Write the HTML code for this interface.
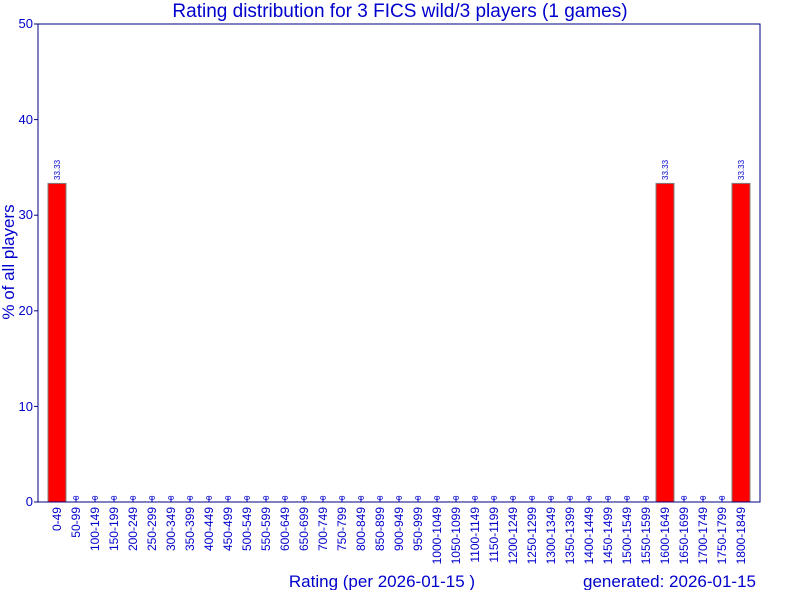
<!DOCTYPE html>
<html><head><style>body{margin:0;background:#fff}svg{display:block}</style></head><body>
<svg width="790" height="590" xmlns="http://www.w3.org/2000/svg" font-family="Liberation Sans, sans-serif" fill="#0000cc">
<rect width="790" height="590" fill="#fff"/>
<text x="400" y="17" font-size="19" text-anchor="middle">Rating distribution for 3 FICS wild/3 players (1 games)</text>
<g fill="#ff0000" stroke="#808080" stroke-width="1">
<rect x="48" y="183.4" width="18" height="318.6"/>
<rect x="656" y="183.4" width="18" height="318.6"/>
<rect x="732" y="183.4" width="18" height="318.6"/>
</g>
<g font-size="8">
<text transform="translate(60,180) rotate(-90)">33.33</text>
<text transform="translate(668,180) rotate(-90)">33.33</text>
<text transform="translate(744,180) rotate(-90)">33.33</text>
</g>
<g stroke="#0000cc">
<line x1="76" y1="502" x2="76" y2="497"/><line x1="95" y1="502" x2="95" y2="497"/><line x1="114" y1="502" x2="114" y2="497"/><line x1="133" y1="502" x2="133" y2="497"/><line x1="152" y1="502" x2="152" y2="497"/><line x1="171" y1="502" x2="171" y2="497"/><line x1="190" y1="502" x2="190" y2="497"/><line x1="209" y1="502" x2="209" y2="497"/><line x1="228" y1="502" x2="228" y2="497"/><line x1="247" y1="502" x2="247" y2="497"/><line x1="266" y1="502" x2="266" y2="497"/><line x1="285" y1="502" x2="285" y2="497"/><line x1="304" y1="502" x2="304" y2="497"/><line x1="323" y1="502" x2="323" y2="497"/><line x1="342" y1="502" x2="342" y2="497"/><line x1="361" y1="502" x2="361" y2="497"/><line x1="380" y1="502" x2="380" y2="497"/><line x1="399" y1="502" x2="399" y2="497"/><line x1="418" y1="502" x2="418" y2="497"/><line x1="437" y1="502" x2="437" y2="497"/><line x1="456" y1="502" x2="456" y2="497"/><line x1="475" y1="502" x2="475" y2="497"/><line x1="494" y1="502" x2="494" y2="497"/><line x1="513" y1="502" x2="513" y2="497"/><line x1="532" y1="502" x2="532" y2="497"/><line x1="551" y1="502" x2="551" y2="497"/><line x1="570" y1="502" x2="570" y2="497"/><line x1="589" y1="502" x2="589" y2="497"/><line x1="608" y1="502" x2="608" y2="497"/><line x1="627" y1="502" x2="627" y2="497"/><line x1="646" y1="502" x2="646" y2="497"/><line x1="684" y1="502" x2="684" y2="497"/><line x1="703" y1="502" x2="703" y2="497"/><line x1="722" y1="502" x2="722" y2="497"/>
</g>
<g font-size="8">
<text transform="translate(79,500) rotate(-90)">0</text><text transform="translate(98,500) rotate(-90)">0</text><text transform="translate(117,500) rotate(-90)">0</text><text transform="translate(136,500) rotate(-90)">0</text><text transform="translate(155,500) rotate(-90)">0</text><text transform="translate(174,500) rotate(-90)">0</text><text transform="translate(193,500) rotate(-90)">0</text><text transform="translate(212,500) rotate(-90)">0</text><text transform="translate(231,500) rotate(-90)">0</text><text transform="translate(250,500) rotate(-90)">0</text><text transform="translate(269,500) rotate(-90)">0</text><text transform="translate(288,500) rotate(-90)">0</text><text transform="translate(307,500) rotate(-90)">0</text><text transform="translate(326,500) rotate(-90)">0</text><text transform="translate(345,500) rotate(-90)">0</text><text transform="translate(364,500) rotate(-90)">0</text><text transform="translate(383,500) rotate(-90)">0</text><text transform="translate(402,500) rotate(-90)">0</text><text transform="translate(421,500) rotate(-90)">0</text><text transform="translate(440,500) rotate(-90)">0</text><text transform="translate(459,500) rotate(-90)">0</text><text transform="translate(478,500) rotate(-90)">0</text><text transform="translate(497,500) rotate(-90)">0</text><text transform="translate(516,500) rotate(-90)">0</text><text transform="translate(535,500) rotate(-90)">0</text><text transform="translate(554,500) rotate(-90)">0</text><text transform="translate(573,500) rotate(-90)">0</text><text transform="translate(592,500) rotate(-90)">0</text><text transform="translate(611,500) rotate(-90)">0</text><text transform="translate(630,500) rotate(-90)">0</text><text transform="translate(649,500) rotate(-90)">0</text><text transform="translate(687,500) rotate(-90)">0</text><text transform="translate(706,500) rotate(-90)">0</text><text transform="translate(725,500) rotate(-90)">0</text>
</g>
<g font-size="12" text-anchor="end">
<text transform="translate(61,507) rotate(-90)">0-49</text>
<text transform="translate(80,507) rotate(-90)">50-99</text>
<text transform="translate(99,507) rotate(-90)">100-149</text>
<text transform="translate(118,507) rotate(-90)">150-199</text>
<text transform="translate(137,507) rotate(-90)">200-249</text>
<text transform="translate(156,507) rotate(-90)">250-299</text>
<text transform="translate(175,507) rotate(-90)">300-349</text>
<text transform="translate(194,507) rotate(-90)">350-399</text>
<text transform="translate(213,507) rotate(-90)">400-449</text>
<text transform="translate(232,507) rotate(-90)">450-499</text>
<text transform="translate(251,507) rotate(-90)">500-549</text>
<text transform="translate(270,507) rotate(-90)">550-599</text>
<text transform="translate(289,507) rotate(-90)">600-649</text>
<text transform="translate(308,507) rotate(-90)">650-699</text>
<text transform="translate(327,507) rotate(-90)">700-749</text>
<text transform="translate(346,507) rotate(-90)">750-799</text>
<text transform="translate(365,507) rotate(-90)">800-849</text>
<text transform="translate(384,507) rotate(-90)">850-899</text>
<text transform="translate(403,507) rotate(-90)">900-949</text>
<text transform="translate(422,507) rotate(-90)">950-999</text>
<text transform="translate(441,507) rotate(-90)">1000-1049</text>
<text transform="translate(460,507) rotate(-90)">1050-1099</text>
<text transform="translate(479,507) rotate(-90)">1100-1149</text>
<text transform="translate(498,507) rotate(-90)">1150-1199</text>
<text transform="translate(517,507) rotate(-90)">1200-1249</text>
<text transform="translate(536,507) rotate(-90)">1250-1299</text>
<text transform="translate(555,507) rotate(-90)">1300-1349</text>
<text transform="translate(574,507) rotate(-90)">1350-1399</text>
<text transform="translate(593,507) rotate(-90)">1400-1449</text>
<text transform="translate(612,507) rotate(-90)">1450-1499</text>
<text transform="translate(631,507) rotate(-90)">1500-1549</text>
<text transform="translate(650,507) rotate(-90)">1550-1599</text>
<text transform="translate(669,507) rotate(-90)">1600-1649</text>
<text transform="translate(688,507) rotate(-90)">1650-1699</text>
<text transform="translate(707,507) rotate(-90)">1700-1749</text>
<text transform="translate(726,507) rotate(-90)">1750-1799</text>
<text transform="translate(745,507) rotate(-90)">1800-1849</text>
</g>
<rect x="38" y="24" width="722" height="478" fill="none" stroke="#000080" stroke-width="1"/>
<g font-size="13" text-anchor="end">
<text x="33" y="506">0</text><text x="33" y="411">10</text><text x="33" y="315">20</text><text x="33" y="219">30</text><text x="33" y="124">40</text><text x="33" y="28">50</text>
</g>
<g stroke="#000080"><line x1="34" y1="502" x2="38" y2="502"/><line x1="34" y1="406.4" x2="38" y2="406.4"/><line x1="34" y1="310.8" x2="38" y2="310.8"/><line x1="34" y1="215.2" x2="38" y2="215.2"/><line x1="34" y1="119.6" x2="38" y2="119.6"/><line x1="34" y1="24" x2="38" y2="24"/></g>
<text transform="translate(14,262) rotate(-90)" font-size="17" text-anchor="middle">% of all players</text>
<text x="382" y="587" font-size="17" text-anchor="middle">Rating (per 2026-01-15 )</text>
<text x="756" y="587" font-size="17" text-anchor="end">generated: 2026-01-15</text>
</svg>
</body></html>
